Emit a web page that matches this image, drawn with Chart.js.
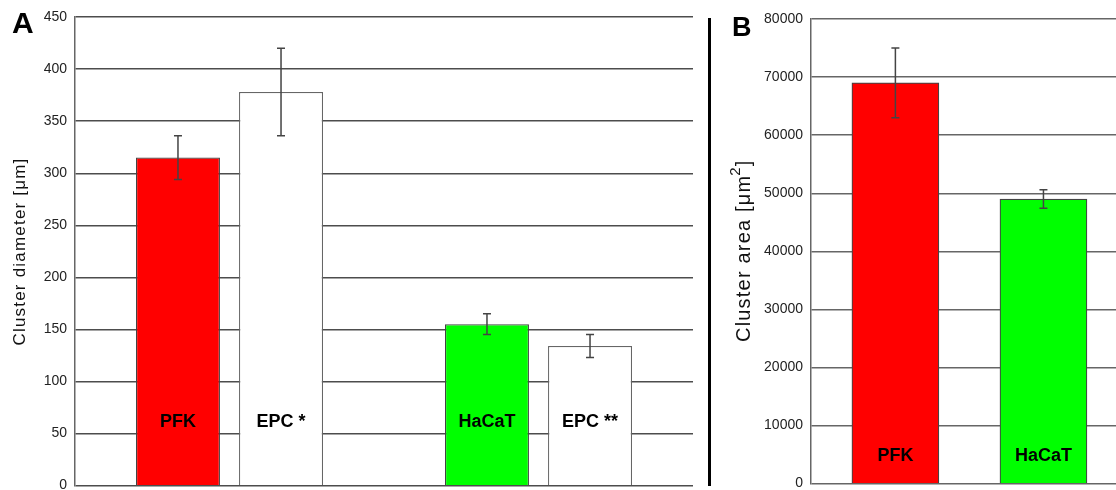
<!DOCTYPE html>
<html>
<head>
    <title>Cluster diameter and area</title>
    <script src="https://cdn.jsdelivr.net/npm/chart.js@4.4.1/dist/chart.umd.min.js"></script>
    <style>
        body { margin: 0; background: #fff; font-family: Arial, "Liberation Sans", sans-serif; }
        .wrap { position: relative; width: 1116px; height: 490px; overflow: hidden; }
        #chartA { position: absolute; left: 0; top: 0; }
        #chartB { position: absolute; left: 712px; top: 0; }
        .panel { position: absolute; font-weight: bold; color: #000; }
        .sep { position: absolute; left: 708px; top: 18px; width: 3px; height: 468px; background: #000; }
    </style>
</head>
<body>
<div class="wrap">
    <canvas id="chartA" width="705" height="502"></canvas>
    <canvas id="chartB" width="404" height="500"></canvas>
    <div class="sep"></div>
    <div class="panel" style="left:12px; top:6px; font-size:30px;">A</div>
    <div class="panel" style="left:732px; top:12px; font-size:27px;">B</div>
</div>

<script>
    // panel A: cluster diameter [um]
    var diamGroups = ["PFK / EPC *", "HaCaT / EPC **"];
    var cellNames = ["PFK", "HaCaT"];
    var cellDiam = [315, 155];
    var cellDiamErr = [21, 10];
    var epcNames = ["EPC *", "EPC **"];
    var epcDiam = [378, 134];
    var epcDiamErr = [42, 11];

    // panel B: cluster area [um2]
    var areaNames = ["PFK", "HaCaT"];
    var areaPos = [1, 2];
    var areaValues = [69000, 49000];
    var areaErr = [6000, 1600];

    var fontFam = 'Arial, "Liberation Sans", sans-serif';

    // whiskers from ds.errors
    var errorBars = {
        id: "errorBars",
        afterDatasetsDraw(chart) {
            var ctx = chart.ctx;
            var y = chart.scales.y;
            ctx.save();
            ctx.strokeStyle = "#444";
            ctx.lineWidth = 1.5;
            chart.data.datasets.forEach((ds, i) => {
                var meta = chart.getDatasetMeta(i);
                meta.data.forEach((bar, j) => {
                    var v = typeof ds.data[j] === "object" ? ds.data[j].y : ds.data[j];
                    var e = ds.errors[j];
                    var top = y.getPixelForValue(v + e);
                    var bot = y.getPixelForValue(v - e);
                    ctx.beginPath();
                    ctx.moveTo(bar.x, top); ctx.lineTo(bar.x, bot);
                    ctx.moveTo(bar.x - 4, top); ctx.lineTo(bar.x + 4, top);
                    ctx.moveTo(bar.x - 4, bot); ctx.lineTo(bar.x + 4, bot);
                    ctx.stroke();
                });
            });
            ctx.restore();
        }
    };

    // names written inside the bars
    var barNames = {
        id: "barNames",
        afterDatasetsDraw(chart, args, opts) {
            var ctx = chart.ctx;
            var yPix = chart.scales.y.bottom - opts.offset;
            ctx.save();
            ctx.fillStyle = "#000";
            ctx.font = "bold 18px " + fontFam;
            ctx.textAlign = "center";
            ctx.textBaseline = "middle";
            chart.data.datasets.forEach((ds, i) => {
                chart.getDatasetMeta(i).data.forEach((bar, j) => {
                    ctx.fillText(ds.names[j], bar.x, yPix);
                });
            });
            ctx.restore();
        }
    };

    // rotated y title, with an optional raised part (the "2" of um2)
    var yTitle = {
        id: "yTitle",
        afterDraw(chart, args, o) {
            var ctx = chart.ctx;
            ctx.save();
            ctx.fillStyle = "#111";
            ctx.textBaseline = "middle";
            ctx.textAlign = "left";
            if ("letterSpacing" in ctx) ctx.letterSpacing = o.spacing + "px";
            ctx.font = o.size + "px " + fontFam;
            var w1 = ctx.measureText(o.text).width;
            var supFont = Math.round(o.size * 0.75) + "px " + fontFam;
            ctx.font = supFont;
            var w2 = o.sup ? ctx.measureText(o.sup).width : 0;
            ctx.translate(o.x, o.y);
            ctx.rotate(-Math.PI / 2);
            var start = -(w1 + w2) / 2;
            ctx.font = o.size + "px " + fontFam;
            ctx.fillText(o.text, start, 0);
            if (o.sup) {
                ctx.font = supFont;
                ctx.fillText(o.sup, start + w1 - o.spacing, -o.size * 0.4);
                ctx.font = o.size + "px " + fontFam;
                ctx.fillText(o.tail, start + w1 - o.spacing + w2, 0);
            }
            ctx.restore();
        }
    };

    function yAxis(max, step, axisWidth, gridColor) {
        return {
            min: 0,
            max: max,
            afterFit: (scale) => { scale.width = axisWidth; },
            ticks: { stepSize: step, padding: 8, color: "#222", font: { size: 14, family: fontFam },
                     callback: (v) => String(v) },
            grid: { color: gridColor, lineWidth: 1.4, drawTicks: false },
            border: { display: true, color: "#666", width: 1.5 }
        };
    }

    new Chart(document.getElementById("chartA"), {
        type: "bar",
        data: {
            labels: diamGroups,
            datasets: [
                { data: cellDiam, errors: cellDiamErr, names: cellNames,
                  backgroundColor: ["#ff0000", "#00ff00"], borderColor: "#444", borderWidth: 1.2,
                  categoryPercentage: 0.667, barPercentage: 0.815 },
                { data: epcDiam, errors: epcDiamErr, names: epcNames,
                  backgroundColor: "#ffffff", borderColor: "#666", borderWidth: 1.2,
                  categoryPercentage: 0.667, barPercentage: 0.815 }
            ]
        },
        options: {
            responsive: false,
            animation: false,
            layout: { padding: { left: 0, top: 17, right: 12, bottom: 5 } },
            plugins: {
                legend: { display: false }, tooltip: { enabled: false },
                barNames: { offset: 64 },
                yTitle: { text: "Cluster diameter [\u03bcm]", size: 17, spacing: 1.2, x: 20.5, y: 251.5 }
            },
            scales: {
                x: { ticks: { display: false }, grid: { display: false }, border: { display: false },
                     afterFit: (scale) => { scale.height = 0; } },
                y: yAxis(450, 50, 75, "#4d4d4d")
            }
        },
        plugins: [errorBars, barNames, yTitle]
    });

    new Chart(document.getElementById("chartB"), {
        type: "bar",
        data: {
            datasets: [
                { data: areaPos.map((p, i) => ({ x: p, y: areaValues[i] })), errors: areaErr, names: areaNames,
                  backgroundColor: ["#ff0000", "#00ff00"], borderColor: "#444", borderWidth: 1.2,
                  barThickness: 87 }
            ]
        },
        options: {
            responsive: false,
            animation: false,
            layout: { padding: { left: 0, top: 19, right: 0, bottom: 7 } },
            plugins: {
                legend: { display: false }, tooltip: { enabled: false },
                barNames: { offset: 28 },
                yTitle: { text: "Cluster area [\u03bcm", sup: "2", tail: "]", size: 20, spacing: 1.2, x: 32, y: 253.5 }
            },
            scales: {
                x: { type: "linear", min: 0.43, max: 2.49, offset: false, ticks: { display: false },
                     grid: { display: false }, border: { display: false },
                     afterFit: (scale) => { scale.height = 0; } },
                y: yAxis(80000, 10000, 99, "#666")
            }
        },
        plugins: [errorBars, barNames, yTitle]
    });
</script>
</body>
</html>
